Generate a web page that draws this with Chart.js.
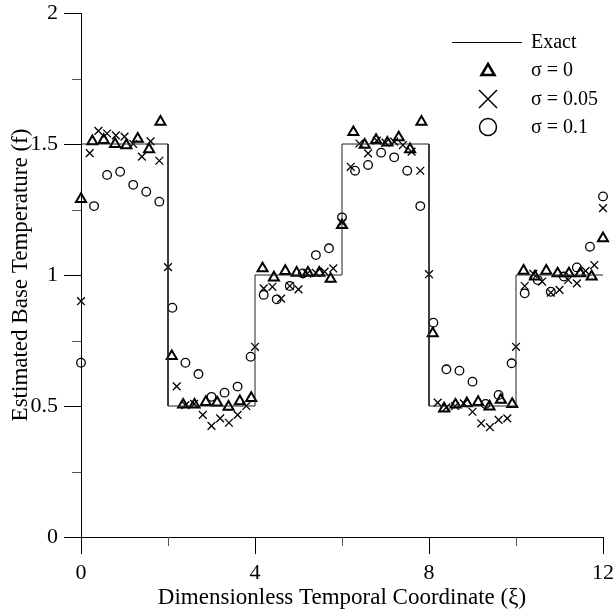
<!DOCTYPE html>
<html>
<head>
<meta charset="utf-8">
<script src="https://cdn.jsdelivr.net/npm/chart.js@4/dist/chart.umd.min.js"></script>
<style>
  html, body { margin: 0; padding: 0; background: #fff; }
  canvas { display: block; }
</style>
</head>
<body>
<canvas id="chart" width="616" height="612"></canvas>
<script>
// exact base temperature: piecewise constant levels between the edges
var exactEdges = [0, 2, 4, 6, 8, 10, 12];
var exactLevels = [1.5, 0.5, 1, 1.5, 0.5, 1];

// sigma = 0 estimates
var triX = [0, 0.261, 0.522, 0.783, 1.043, 1.304, 1.565, 1.826, 2.087, 2.348, 2.609, 2.870,
  3.130, 3.391, 3.652, 3.913, 4.174, 4.435, 4.696, 4.957, 5.217, 5.478, 5.739, 6.000,
  6.261, 6.522, 6.783, 7.043, 7.304, 7.565, 7.826, 8.087, 8.348, 8.609, 8.870, 9.130,
  9.391, 9.652, 9.913, 10.174, 10.435, 10.696, 10.957, 11.217, 11.478, 11.739, 12.000];
var triY = [1.29, 1.51, 1.515, 1.50, 1.495, 1.52, 1.48, 1.585, 0.69, 0.505, 0.505, 0.515,
  0.513, 0.497, 0.518, 0.53, 1.025, 0.99, 1.015, 1.008, 1.008, 1.008, 0.985, 1.19,
  1.545, 1.497, 1.515, 1.505, 1.525, 1.48, 1.585, 0.777, 0.49, 0.505, 0.51, 0.515,
  0.498, 0.523, 0.507, 1.016, 0.994, 1.016, 1.006, 1.006, 1.006, 0.994, 1.14];

// sigma = 0.05 estimates
var crossX = [0, 0.2, 0.4, 0.6, 0.8, 1.0, 1.2, 1.4, 1.6, 1.8, 2.0, 2.2, 2.4, 2.6, 2.8, 3.0,
  3.2, 3.4, 3.6, 3.8, 4.0, 4.2, 4.4, 4.6, 4.8, 5.0, 5.2, 5.4, 5.6, 5.8, 6.0, 6.2, 6.4,
  6.6, 6.8, 7.0, 7.2, 7.4, 7.6, 7.8, 8.0, 8.2, 8.4, 8.6, 8.8, 9.0, 9.2, 9.4, 9.6, 9.8,
  10.0, 10.2, 10.4, 10.6, 10.8, 11.0, 11.2, 11.4, 11.6, 11.8, 12.0];
var crossY = [0.90, 1.465, 1.55, 1.54, 1.533, 1.528, 1.50, 1.452, 1.51, 1.436, 1.03, 0.575,
  0.503, 0.508, 0.466, 0.424, 0.453, 0.436, 0.466, 0.50, 0.726, 0.949, 0.955, 0.91, 0.958,
  0.945, 1.005, 1.008, 1.013, 1.025, 1.20, 1.413, 1.502, 1.464, 1.513, 1.505, 1.509, 1.496,
  1.471, 1.398, 1.003, 0.513, 0.495, 0.50, 0.51, 0.478, 0.434, 0.419, 0.447, 0.453, 0.726,
  0.958, 1.004, 0.975, 0.933, 0.943, 0.981, 0.968, 1.016, 1.038, 1.255];

// sigma = 0.1 estimates
var circX = [0, 0.3, 0.6, 0.9, 1.2, 1.5, 1.8, 2.1, 2.4, 2.7, 3.0, 3.3, 3.6, 3.9, 4.2, 4.5,
  4.8, 5.1, 5.4, 5.7, 6.0, 6.3, 6.6, 6.9, 7.2, 7.5, 7.8, 8.1, 8.4, 8.7, 9.0, 9.3, 9.6,
  9.9, 10.2, 10.5, 10.8, 11.1, 11.4, 11.7, 12.0];
var circY = [0.665, 1.263, 1.382, 1.394, 1.344, 1.318, 1.28, 0.875, 0.665, 0.622, 0.535,
  0.551, 0.574, 0.688, 0.924, 0.907, 0.958, 1.006, 1.076, 1.102, 1.22, 1.398, 1.42, 1.467,
  1.449, 1.398, 1.263, 0.818, 0.64, 0.635, 0.593, 0.508, 0.542, 0.663, 0.93, 0.981, 0.936,
  0.994, 1.029, 1.108, 1.30];

var xMajor = [0, 4, 8, 12];
var xMinor = [2, 6, 10];
var yMajor = [0, 0.5, 1, 1.5, 2];
var yMinor = [0.25, 0.75, 1.25, 1.75];

var legendLabels = ['Exact', 'σ = 0', 'σ = 0.05', 'σ = 0.1'];

var serif = "'Liberation Serif', 'Times New Roman', serif";

function pairs(xs, ys) {
  return xs.map(function(x, i) { return {x: x, y: ys[i]}; });
}

var exactPts = [];
exactLevels.forEach(function(v, i) {
  exactPts.push({x: exactEdges[i], y: v}, {x: exactEdges[i + 1], y: v});
});

// let the layout padding alone decide where the plot area sits
function noEdgePadding(s) {
  s.paddingLeft = 0;
  s.paddingRight = 0;
  s.paddingTop = 0;
  s.paddingBottom = 0;
}

// short unlabeled ticks between the labeled ones
var minorTicks = {
  id: 'minorTicks',
  afterDraw: function(chart) {
    var ctx = chart.ctx, xs = chart.scales.x, ys = chart.scales.y;
    ctx.save();
    ctx.strokeStyle = '#555';
    ctx.lineWidth = 1;
    ctx.beginPath();
    xMinor.forEach(function(v) {
      var px = Math.round(xs.getPixelForValue(v)) + 0.5;
      ctx.moveTo(px, xs.top);
      ctx.lineTo(px, xs.top + 9);
    });
    yMinor.forEach(function(v) {
      var py = Math.round(ys.getPixelForValue(v)) + 0.5;
      ctx.moveTo(ys.right - 9, py);
      ctx.lineTo(ys.right, py);
    });
    ctx.stroke();
    ctx.restore();
  }
};

// legend box in the upper right of the plot
var legendBox = {
  id: 'legendBox',
  afterDraw: function(chart) {
    var ctx = chart.ctx;
    var mx = 488, tx = 531;
    var rows = [42, 70, 99, 127];
    ctx.save();
    ctx.strokeStyle = '#000';
    ctx.fillStyle = '#000';

    ctx.lineWidth = 1;
    ctx.beginPath();
    ctx.moveTo(452, rows[0] + 0.5);
    ctx.lineTo(522, rows[0] + 0.5);
    ctx.stroke();

    // triangle
    ctx.lineWidth = 2.5;
    ctx.beginPath();
    ctx.moveTo(mx, rows[1] - 6);
    ctx.lineTo(mx + 6.5, rows[1] + 5);
    ctx.lineTo(mx - 6.5, rows[1] + 5);
    ctx.closePath();
    ctx.stroke();

    // cross
    ctx.lineWidth = 1.5;
    ctx.beginPath();
    ctx.moveTo(mx - 9, rows[2] - 9);
    ctx.lineTo(mx + 9, rows[2] + 9);
    ctx.moveTo(mx + 9, rows[2] - 9);
    ctx.lineTo(mx - 9, rows[2] + 9);
    ctx.stroke();

    // circle
    ctx.beginPath();
    ctx.arc(mx, rows[3], 8.5, 0, Math.PI * 2);
    ctx.stroke();

    ctx.font = '20px ' + serif;
    ctx.textBaseline = 'middle';
    ctx.textAlign = 'left';
    legendLabels.forEach(function(t, i) {
      ctx.fillText(t, tx, rows[i] + 1);
    });
    ctx.restore();
  }
};

new Chart(document.getElementById('chart'), {
  type: 'scatter',
  data: {
    datasets: [
      {
        label: legendLabels[0],
        type: 'line',
        data: exactPts,
        borderColor: '#222',
        borderWidth: 1,
        pointRadius: 0,
        fill: false,
        tension: 0,
        clip: false
      },
      {
        label: legendLabels[1],
        data: pairs(triX, triY),
        pointStyle: 'triangle',
        pointRadius: 5.8,
        pointBorderWidth: 2,
        pointBorderColor: '#000',
        pointBackgroundColor: 'rgba(0,0,0,0)',
        clip: false
      },
      {
        label: legendLabels[2],
        data: pairs(crossX, crossY),
        pointStyle: 'crossRot',
        pointRadius: 5.5,
        pointBorderWidth: 1.3,
        pointBorderColor: '#000',
        pointBackgroundColor: 'rgba(0,0,0,0)',
        clip: false
      },
      {
        label: legendLabels[3],
        data: pairs(circX, circY),
        pointStyle: 'circle',
        pointRadius: 4.3,
        pointBorderWidth: 1.3,
        pointBorderColor: '#000',
        pointBackgroundColor: 'rgba(0,0,0,0)',
        clip: false
      }
    ]
  },
  options: {
    responsive: false,
    devicePixelRatio: 1,
    animation: false,
    events: [],
    layout: { padding: { top: 13, right: 13, left: 0, bottom: 0 } },
    plugins: {
      legend: { display: false },
      tooltip: { enabled: false }
    },
    scales: {
      x: {
        type: 'linear',
        min: 0,
        max: 12,
        afterBuildTicks: function(s) { s.ticks = xMajor.map(function(v) { return {value: v}; }); },
        afterFit: function(s) { s.height = 75; noEdgePadding(s); },
        border: { display: true, color: '#000', width: 1 },
        grid: { drawOnChartArea: false, drawTicks: true, tickLength: 17, tickColor: '#000' },
        ticks: {
          color: '#000',
          font: { family: serif, size: 22, lineHeight: 1 },
          padding: 8,
          maxRotation: 0,
          autoSkip: false,
          callback: function(v) { return String(v); }
        },
        title: {
          display: true,
          text: 'Dimensionless Temporal Coordinate (ξ)',
          color: '#000',
          font: { family: serif, size: 23, lineHeight: 1.2 },
          padding: { top: 0, bottom: 0 }
        }
      },
      y: {
        type: 'linear',
        min: 0,
        max: 2,
        afterBuildTicks: function(s) { s.ticks = yMajor.map(function(v) { return {value: v}; }); },
        afterFit: function(s) { s.width = 81; noEdgePadding(s); },
        border: { display: true, color: '#000', width: 1 },
        grid: { drawOnChartArea: false, drawTicks: true, tickLength: 17, tickColor: '#000' },
        ticks: {
          color: '#000',
          font: { family: serif, size: 22, lineHeight: 1 },
          padding: 6,
          callback: function(v) { return String(v); }
        },
        title: {
          display: true,
          text: 'Estimated Base Temperature (f)',
          color: '#000',
          font: { family: serif, size: 23, lineHeight: 1.2 },
          padding: { top: 7, bottom: 0 }
        }
      }
    }
  },
  plugins: [minorTicks, legendBox]
});
</script>
</body>
</html>
